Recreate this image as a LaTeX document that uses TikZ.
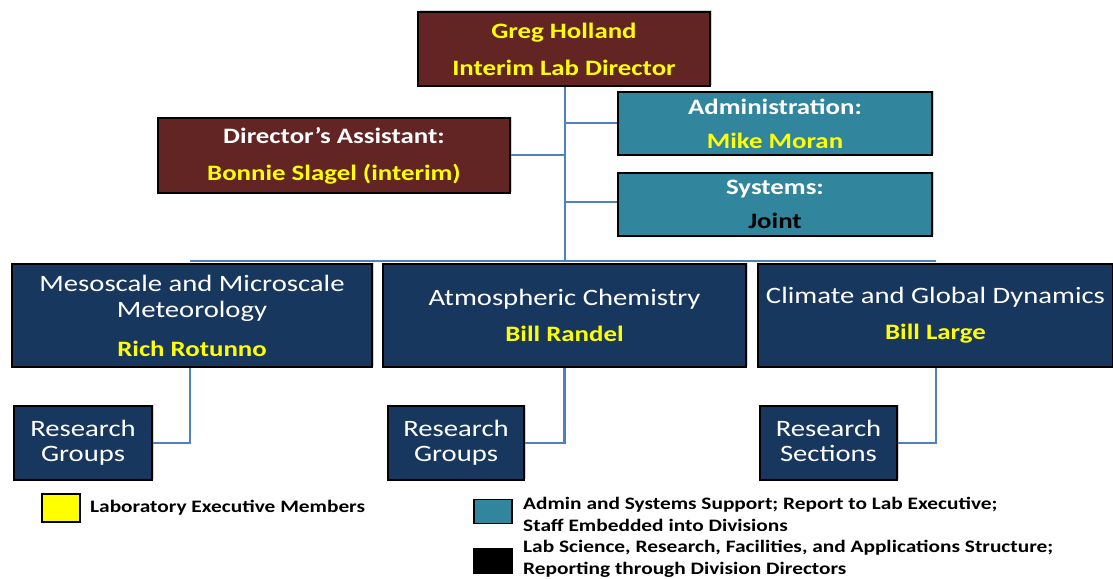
\documentclass[tikz,border=0pt]{standalone}
\usepackage{fontspec}
\usepackage{xcolor}
\setmainfont[FakeStretch=1.22]{Carlito}
\usetikzlibrary{shadows}
\definecolor{maroon}{RGB}{99,37,35}
\definecolor{teal}{RGB}{49,133,156}
\definecolor{navy}{RGB}{23,55,94}
\definecolor{link}{RGB}{79,129,189}
\definecolor{execyellow}{RGB}{255,255,0}
\newcommand{\exec}[1]{\textcolor{execyellow}{\bfseries\fontsize{22}{26}\selectfont #1}}
\tikzset{
  box/.style={draw=black, line width=2.2pt, text=white, align=center, inner sep=0pt,
    drop shadow={shadow xshift=1.5pt, shadow yshift=1.5pt, opacity=.35}},
  topbox/.style={box, fill=maroon, font=\bfseries\fontsize{22}{37}\selectfont},
  supbox/.style={box, fill=teal, font=\bfseries\fontsize{22}{34}\selectfont},
  divbox/.style={box, fill=navy, font=\fontsize{23.5}{26}\selectfont},
  subbox/.style={box, fill=navy, font=\fontsize{23.5}{25}\selectfont},
  key/.style={draw=black, line width=1.5pt, minimum width=38pt, minimum height=24pt, inner sep=0pt},
  keytext/.style={anchor=west, align=left, inner sep=0pt, font=\bfseries\fontsize{17.5}{22}\selectfont},
  wire/.style={draw=link, line width=2.4pt}
}
\begin{document}
\begin{tikzpicture}[x=1pt,y=-1pt]
\useasboundingbox (0,0) rectangle (1113,578);
\coordinate (bus) at (565,261);
% lines first, the boxes sit on top of them
\path[wire] (565,50) -- (bus);
\path[wire] (190,261) -- (936,261);
\path[wire] (565,123) -- (620,123);
\path[wire] (508,155) -- (565,155);
\path[wire] (565,202) -- (620,202);
% director and staff
\node[topbox, minimum width=292pt, minimum height=74pt] (dir) at (564,49)
  {\exec{Greg Holland}\\\exec{Interim Lab Director}};
\node[topbox, minimum width=352pt, minimum height=75pt] (asst) at (334,155.5)
  {Director’s Assistant:\\\exec{Bonnie Slagel (interim)}};
\node[supbox, minimum width=314pt, minimum height=63pt] (admin) at (775,123.5)
  {Administration:\\\exec{Mike Moran}};
\node[supbox, minimum width=314pt, minimum height=63pt] (sys) at (775,204.5)
  {Systems:\\\textcolor{black}{Joint}};
% divisions
\node[divbox, minimum width=360pt, minimum height=103pt] (mmm) at (192,315.5)
  {Mesoscale and Microscale\\Meteorology\\[13pt]\exec{Rich Rotunno}};
\node[divbox, minimum width=363pt, minimum height=103pt] (acd) at (564.5,315.5)
  {Atmospheric Chemistry\\[10pt]\exec{Bill Randel}};
\node[divbox, minimum width=355pt, minimum height=103pt] (cgd) at (935.5,315.5)
  {Climate and Global Dynamics\\[10pt]\exec{Bill Large}};
% research units under each division
\node[subbox, minimum width=138pt, minimum height=74pt] (mmmres) at (83,443)
  {Research\\Groups};
\node[subbox, minimum width=136pt, minimum height=74pt] (acdres) at (456,443)
  {Research\\Groups};
\node[subbox, minimum width=137pt, minimum height=74pt] (cgdres) at (828.5,443)
  {Research\\Sections\vphantom{p}};
\path[wire] (mmm.south -| 190,0) |- (mmmres.east);
\path[wire] (acd.south) |- (acdres.east);
\path[wire] (cgd.south -| 936,0) |- (cgdres.east);
% key
\node[key, fill=execyellow, minimum height=28pt] (k1) at (61,508) {};
\node[keytext] (k1t) at (90,508) {Laboratory Executive Members};
\node[key, fill=teal] (k2) at (493,511.5) {};
\node[keytext] (k2t) at (523,514) {Admin and Systems Support; Report to Lab Executive;\\Staff Embedded into Divisions};
\node[key, fill=black] (k3) at (493,561) {};
\node[keytext] (k3t) at (523,558.5) {Lab Science, Research, Facilities, and Applications Structure;\\Reporting through Division Directors};
\end{tikzpicture}
\end{document}
